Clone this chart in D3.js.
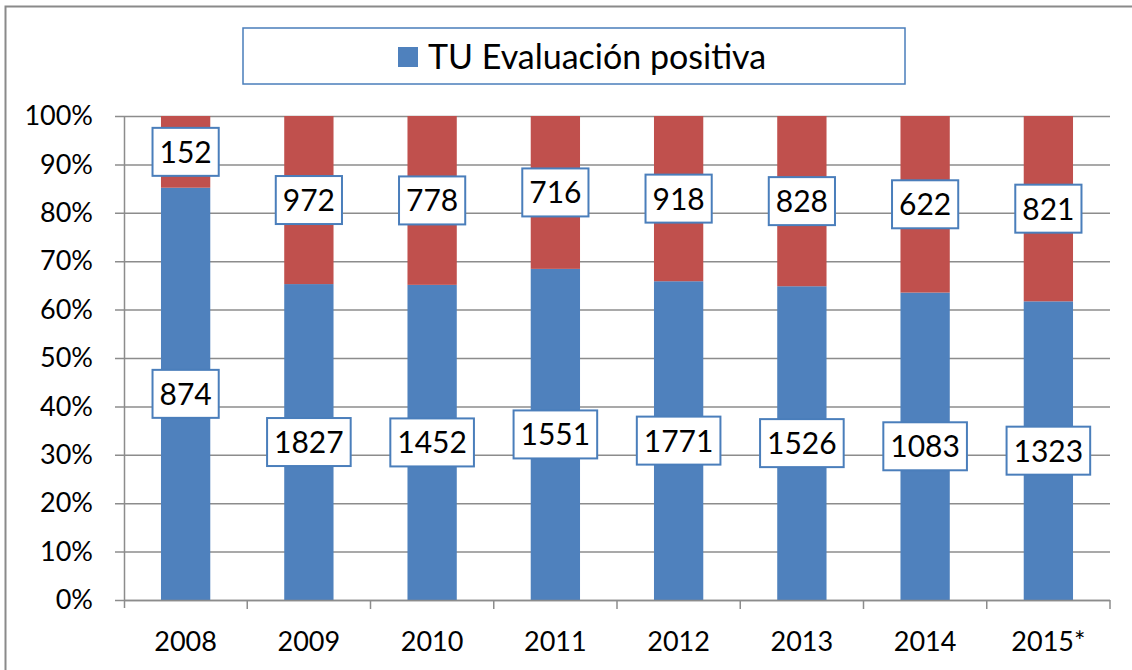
<!DOCTYPE html>
<html>
<head>
<meta charset="utf-8">
<script src="https://cdn.jsdelivr.net/npm/d3@7"></script>
<style>
  body { margin: 0; background: #fff; }
  svg { display: block; font-family: Lato, "Open Sans", sans-serif; }
</style>
</head>
<body>
<div id="chart"></div>
<script>
const years = ['2008', '2009', '2010', '2011', '2012', '2013', '2014', '2015*'];
const positive = [874, 1827, 1452, 1551, 1771, 1526, 1083, 1323];
const negative = [152, 972, 778, 716, 918, 828, 622, 821];
const yTicks = [0, 0.1, 0.2, 0.3, 0.4, 0.5, 0.6, 0.7, 0.8, 0.9, 1];
const legendLabel = 'TU Evaluación positiva';

const W = 1132, H = 670;
const margin = { top: 116, right: 22, bottom: 70, left: 124 };
const width = W - margin.left - margin.right;
const height = H - margin.top - margin.bottom;

const blue = '#4f81bd', red = '#c0504d', grid = '#8c8c8c', boxStroke = '#4a7ebb';

const rows = years.map((y, i) => {
    const total = positive[i] + negative[i];
    return { year: y, pos: positive[i], neg: negative[i], p: positive[i] / total };
});

const svg = d3.select('#chart').append('svg')
    .attr('width', W)
    .attr('height', H);

// outer frame (left/top visible)
svg.append('rect')
    .attr('x', 5.5).attr('y', 6.5)
    .attr('width', W + 20).attr('height', H + 20)
    .attr('fill', 'none')
    .attr('stroke', '#8a8a8a')
    .attr('stroke-width', 2);

const main = svg.append('g')
    .attr('transform', `translate(${margin.left},${margin.top})`);

const x = d3.scaleBand()
    .domain(years)
    .range([0, width])
    .paddingInner(0.6)
    .paddingOuter(0.3);

const xBand = d3.scaleBand().domain(years).range([0, width]);

const y = d3.scaleLinear().domain([0, 1]).range([height, 0]);

// gridlines + y axis
const yAxis = d3.axisLeft(y)
    .tickValues(yTicks)
    .tickFormat(d3.format('.0%'))
    .tickSize(9)
    .tickPadding(22);

const yAxisG = main.append('g').attr('class', 'axis y').call(yAxis);
yAxisG.select('.domain').remove();
yAxisG.selectAll('.tick line')
    .attr('x1', -9)
    .attr('x2', width)
    .attr('stroke', grid)
    .attr('stroke-width', 1.5);
yAxisG.selectAll('.tick text')
    .attr('font-size', 27)
    .attr('fill', '#000')
    .attr('font-family', 'Lato, sans-serif');

main.append('line')
    .attr('x1', 0.5).attr('x2', 0.5)
    .attr('y1', 0).attr('y2', height + 8)
    .attr('stroke', grid)
    .attr('stroke-width', 1.5);

// bars
const bars = main.append('g');
bars.selectAll('.pos')
    .data(rows)
    .join('rect')
    .attr('class', 'pos')
    .attr('x', d => x(d.year))
    .attr('width', x.bandwidth())
    .attr('y', d => y(d.p))
    .attr('height', d => y(0) - y(d.p))
    .attr('fill', blue);

bars.selectAll('.neg')
    .data(rows)
    .join('rect')
    .attr('class', 'neg')
    .attr('x', d => x(d.year))
    .attr('width', x.bandwidth())
    .attr('y', y(1))
    .attr('height', d => y(d.p) - y(1))
    .attr('fill', red);

// x axis
const xAxisG = main.append('g')
    .attr('transform', `translate(0,${height})`);
xAxisG.append('line')
    .attr('x1', 0).attr('x2', width)
    .attr('y1', 0.5).attr('y2', 0.5)
    .attr('stroke', grid)
    .attr('stroke-width', 1.5);
xAxisG.selectAll('.xt')
    .data(years.slice(1).concat(['end']))
    .join('line')
    .attr('class', 'xt')
    .attr('x1', (d, i) => i < years.length - 1 ? xBand(d) : width)
    .attr('x2', (d, i) => i < years.length - 1 ? xBand(d) : width)
    .attr('y1', 0).attr('y2', 9)
    .attr('stroke', grid)
    .attr('stroke-width', 1.5);
xAxisG.selectAll('.xl')
    .data(years)
    .join('text')
    .attr('class', 'xl')
    .attr('x', d => xBand(d) + xBand.bandwidth() / 2)
    .attr('y', 51)
    .attr('text-anchor', 'middle')
    .attr('font-size', 27)
    .text(d => d);

// data labels
function addLabel(g, cx, cy, txt) {
    const lg = g.append('g');
    const rectEl = lg.append('rect');
    const t = lg.append('text')
        .attr('x', cx)
        .attr('y', cy + 11)
        .attr('text-anchor', 'middle')
        .attr('font-size', 30)
        .text(txt);
    const w = t.node().getComputedTextLength() + 14;
    rectEl
        .attr('x', cx - w / 2)
        .attr('y', cy - 24)
        .attr('width', w)
        .attr('height', 48)
        .attr('fill', '#fff')
        .attr('stroke', boxStroke)
        .attr('stroke-width', 2);
}

const labels = main.append('g');
rows.forEach(d => {
    const cx = x(d.year) + x.bandwidth() / 2;
    addLabel(labels, cx, y(d.p / 2), d.pos);
    addLabel(labels, cx, y((d.p + 1) / 2), d.neg);
});

// legend
const leg = svg.append('g');
leg.append('rect')
    .attr('x', 243).attr('y', 28)
    .attr('width', 662).attr('height', 56)
    .attr('fill', '#fff')
    .attr('stroke', boxStroke)
    .attr('stroke-width', 1.5);
leg.append('rect')
    .attr('x', 398).attr('y', 47)
    .attr('width', 20).attr('height', 20)
    .attr('fill', blue);
leg.append('text')
    .attr('x', 428).attr('y', 69)
    .attr('font-size', 34)
    .text(legendLabel);
</script>
</body>
</html>
